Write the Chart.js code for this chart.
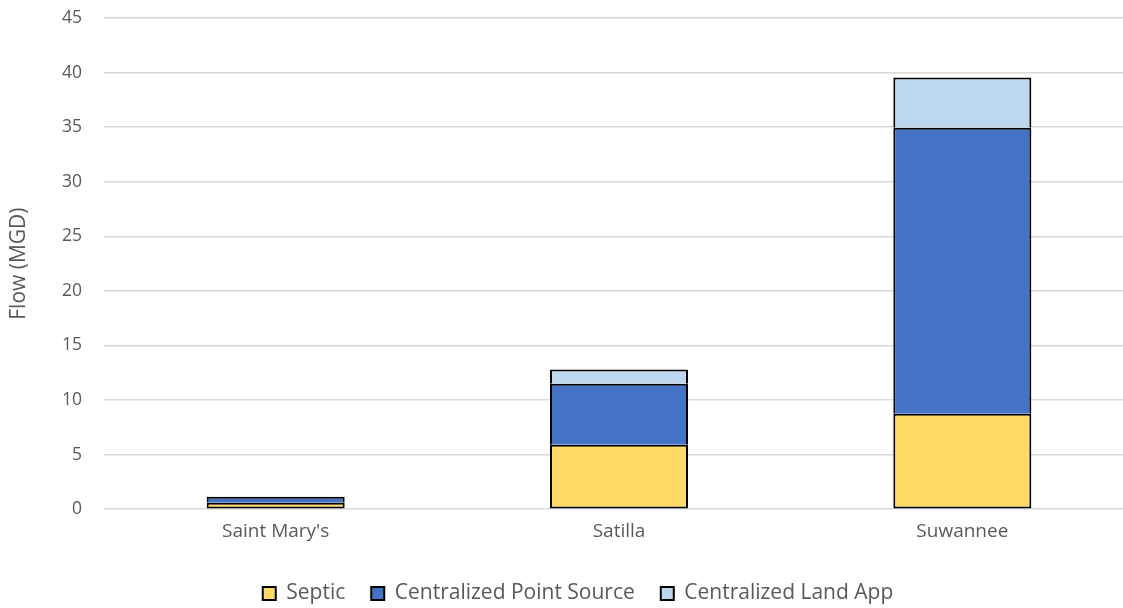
<!DOCTYPE html>
<html>
<head>
<meta charset="utf-8">
<script src="https://cdn.jsdelivr.net/npm/chart.js@4"></script>
<style>
  html, body { margin: 0; padding: 0; background: #fff; overflow: hidden; }
  /* the plot in the original runs a bit past the right edge, so the canvas is oversized and clipped */
  #wrap { width: 1134px; height: 614px; }
</style>
</head>
<body>
<div id="wrap"><canvas id="chart"></canvas></div>
<script>
// basins along the x axis
const basins = ["Saint Mary's", 'Satilla', 'Suwannee'];

// flow per source (MGD)
const septic = [0.6, 5.9, 8.75];
const pointSource = [0.55, 5.6, 26.2];
const landApp = [0, 1.3, 4.6];

const yTicks = [0, 5, 10, 15, 20, 25, 30, 35, 40, 45];

const fontFamily = "'Open Sans', 'Noto Sans', sans-serif";
const textColor = '#595959';

function makeSet(label, data, color, skip) {
    return {
        label: label,
        data: data,
        backgroundColor: color,
        borderColor: '#000000',
        borderWidth: 2,
        borderSkipped: skip, // upper segments share the edge with the one below
        barPercentage: 0.402,
        categoryPercentage: 1.0
    };
}

// nudge the legend a little right, the original centres it off the plot
const legendShift = {
    id: 'legendShift',
    afterLayout(chart) {
        chart.legend.left += 11;
        chart.legend.right += 11;
    }
};

const ctx = document.getElementById('chart').getContext('2d');
new Chart(ctx, {
    type: 'bar',
    data: {
        labels: basins,
        datasets: [
            makeSet('Septic', septic, '#FFD966', false),
            makeSet('Centralized Point Source', pointSource, '#4472C4', 'start'),
            makeSet('Centralized Land App', landApp, '#BDD7EE', 'start')
        ]
    },
    plugins: [legendShift],
    options: {
        responsive: true,
        maintainAspectRatio: false,
        animation: false,
        layout: { padding: { left: 0, right: 0, top: 18, bottom: 0 } },
        plugins: {
            legend: {
                position: 'bottom',
                labels: {
                    boxWidth: 13,
                    boxHeight: 13,
                    padding: 26,
                    color: textColor,
                    font: { family: fontFamily, size: 21 }
                }
            },
            tooltip: { enabled: false }
        },
        scales: {
            x: {
                stacked: true,
                afterFit: axis => { axis.height += 11; }, // extra room under the labels
                grid: { display: false },
                border: { display: false },
                ticks: { color: textColor, font: { family: fontFamily, size: 19 }, padding: 3 }
            },
            y: {
                stacked: true,
                min: 0,
                max: 45,
                afterBuildTicks: axis => { axis.ticks = yTicks.map(v => ({ value: v })); },
                afterFit: axis => {
                    axis.width = 104;
                    axis.paddingTop = 0;
                    axis.paddingBottom = 0;
                },
                grid: { color: '#d9d9d9', lineWidth: 1.5, drawTicks: false },
                border: { display: false },
                ticks: { color: textColor, font: { family: fontFamily, size: 17.5 }, padding: 22 },
                title: {
                    display: true,
                    text: 'Flow (MGD)',
                    color: textColor,
                    font: { family: fontFamily, size: 21 },
                    padding: { top: 6, bottom: 0 }
                }
            }
        }
    }
});
</script>
</body>
</html>
